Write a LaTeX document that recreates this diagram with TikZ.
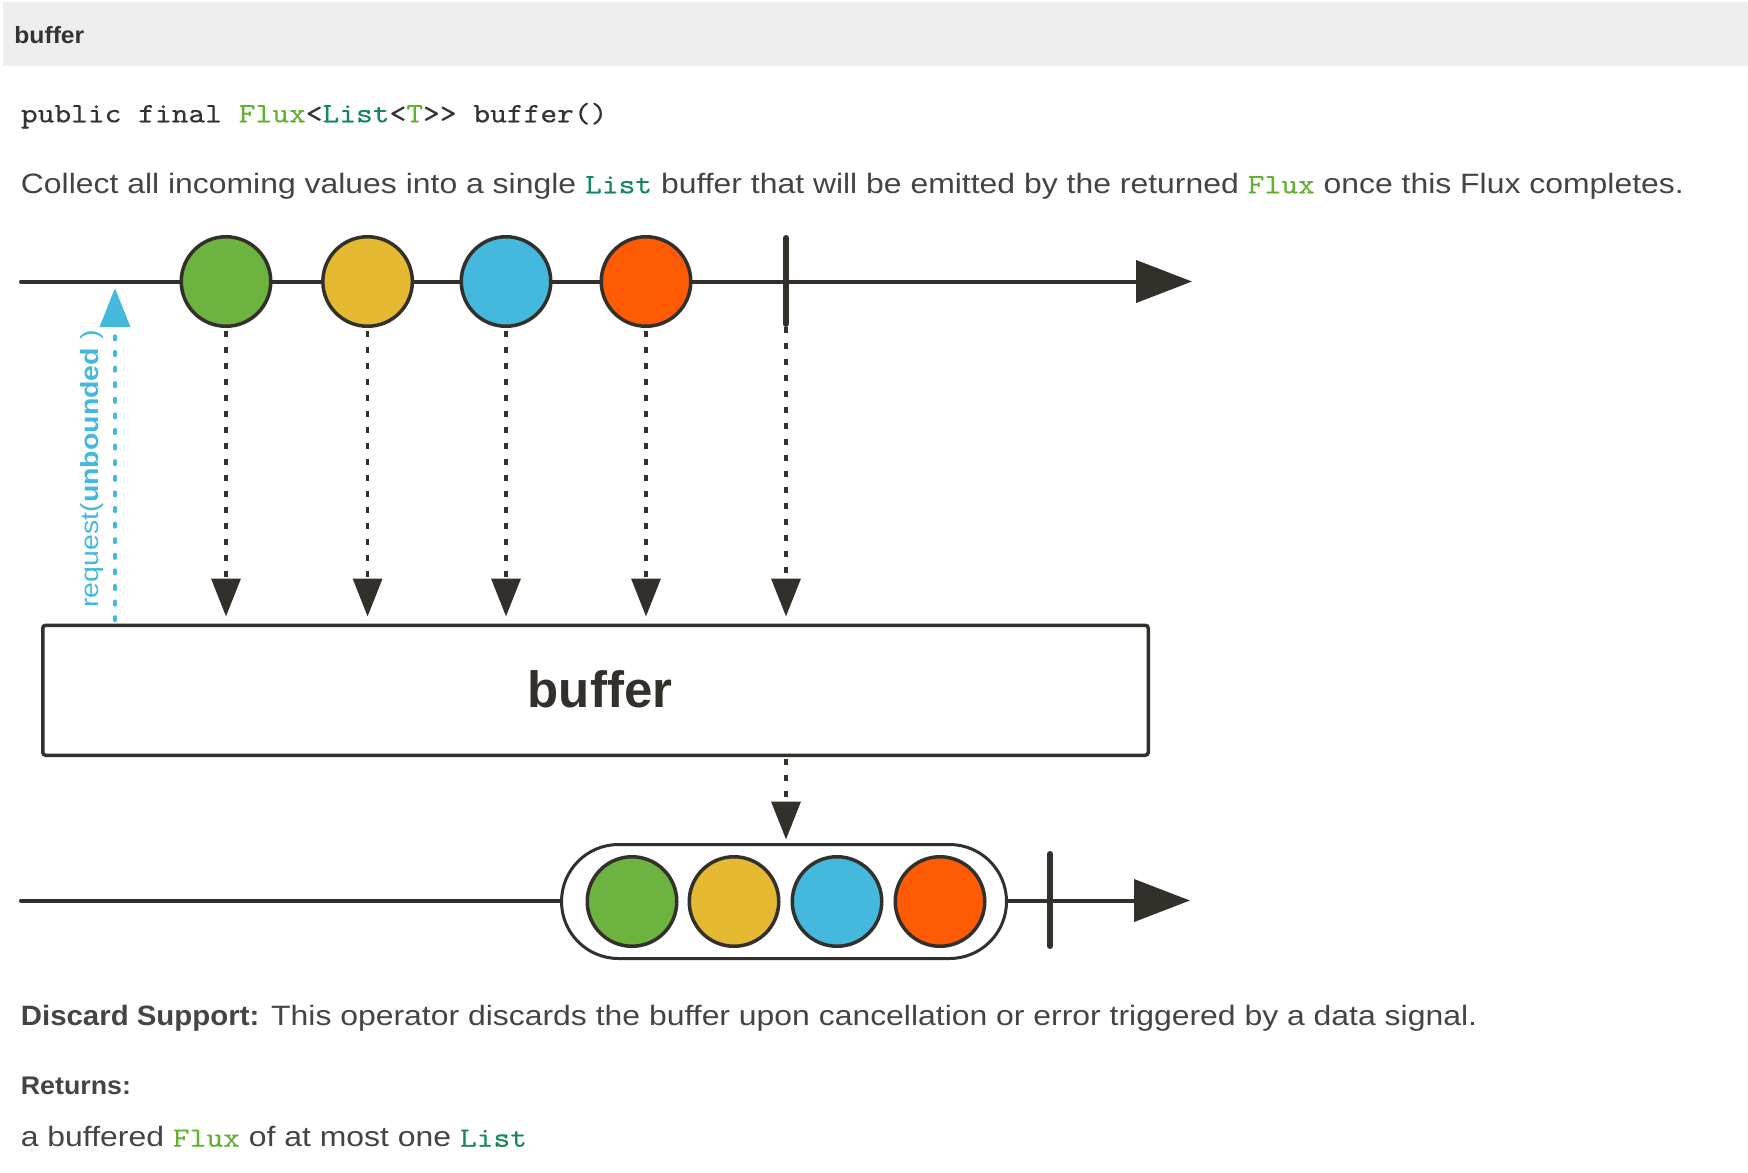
\documentclass[tikz,border=0pt]{standalone}
\usepackage{fontspec}
\setmainfont{Liberation Sans}[FakeStretch=1.14]
\newfontfamily\boldfont{Liberation Sans}[FakeStretch=1.05]
\newfontfamily\plainfont{Liberation Sans}
\newfontfamily\codefont{lmmono10-regular.otf}[FakeStretch=1.14, FakeBold=0.4]
\usetikzlibrary{arrows.meta}
\definecolor{ink}{HTML}{33302C}
\definecolor{txt}{HTML}{444444}
\definecolor{codetxt}{HTML}{333333}
\definecolor{lgreen}{HTML}{62B133}
\definecolor{listgreen}{HTML}{15875A}
\definecolor{cgreen}{HTML}{6DB33F}
\definecolor{cyellow}{HTML}{E5B931}
\definecolor{cblue}{HTML}{44B8DD}
\definecolor{corange}{HTML}{FF5B05}
\definecolor{reqblue}{HTML}{45B8DE}
\definecolor{band}{HTML}{EEEEEE}
\begin{document}
\begin{tikzpicture}[x=0.5pt,y=-0.5pt,
  timeline/.style={draw=ink, line width=2pt, line cap=round, -{Triangle[length=28pt,width=21pt]}},
  marble/.style={circle, draw=ink, line width=1.75pt, minimum size=44.75pt, inner sep=0pt},
  endbar/.style={draw=ink, line width=3pt, line cap=round},
  dotarrow/.style={draw=ink, line width=1.75pt, dash pattern=on 3.2pt off 4.8pt, -{Triangle[length=19pt,width=14.5pt]}},
  reqarrow/.style={draw=reqblue, line width=1.75pt, line cap=round, dash pattern=on 1.8pt off 6pt, -{Triangle[length=19.5pt,width=15pt]}},
  textline/.style={anchor=base west, inner sep=0pt, text=txt, font=\fontsize{14}{16}\selectfont},
]
\useasboundingbox (0,0) rectangle (1748,1172);
% header band
\fill[band] (3,2) rectangle (1748,66);
\node[anchor=base west, inner sep=0pt, text=codetxt, font=\boldfont\bfseries\fontsize{11.75}{14}\selectfont] (title) at (14,43.3) {buffer};
% signature
\node[anchor=base west, inner sep=0pt, text=codetxt, font=\codefont\fontsize{14}{16}\selectfont] (sig) at (20.5,122.3)
  {public final \textcolor{lgreen}{Flux}<\textcolor{listgreen}{List}<\textcolor{lgreen}{T}>> buffer()};
% description
\node[textline] (desc) at (20.5,193.3)
  {Collect all incoming values into a single {\codefont\textcolor{listgreen}{List}} buffer that will be emitted by the returned {\codefont\textcolor{lgreen}{Flux}} once this Flux completes.};

% top timeline
\coordinate (tl0) at (21,281.5);
\coordinate (tl1) at (1192,281.5);
\draw[timeline] (tl0) -- (tl1);
\node[marble, fill=cgreen] (g1) at (226,281.5) {};
\node[marble, fill=cyellow] (y1) at (367.6,281.5) {};
\node[marble, fill=cblue] (b1) at (506,281.5) {};
\node[marble, fill=corange] (o1) at (646,281.5) {};
\coordinate (bartop) at (786,238);
\coordinate (barbot) at (786,324);
\draw[endbar] (bartop) -- (barbot);

% operator box
\node[draw=ink, fill=white, line width=1.75pt, rounded corners=1.5pt, minimum width=552.75pt, minimum height=65pt, inner sep=0pt] (box) at (595.5,690.25) {};
\node[text=ink, inner sep=0pt, font=\plainfont\bfseries\fontsize{25.5}{30}\selectfont] (boxlabel) at (600,689.5) {buffer};

% dotted arrows into the box
\foreach \m in {g1,y1,b1,o1}
  \draw[dotarrow, shorten <=1.5pt, shorten >=3.5pt] (\m.south) -- (\m.south |- box.north);
\draw[dotarrow, shorten <=1.5pt, shorten >=3.5pt] (barbot) -- (barbot |- box.north);

% request arrow and label
\coordinate (reqtip) at (115,288);
\draw[reqarrow, shorten <=1.5pt] (reqtip |- box.north) -- (reqtip);
\node[rotate=90, inner sep=0pt, text=reqblue, font=\fontsize{12.5}{14}\selectfont] (reqlabel) at (92.5,469) {request(\textbf{unbounded} )};

% bottom timeline
\coordinate (bl0) at (21,900.5);
\coordinate (bl1) at (1190,900.5);
\draw[timeline] (bl0) -- (bl1);
\node[draw=ink, fill=white, line width=1.5pt, rounded corners=28.5pt, minimum width=222.5pt, minimum height=57pt, inner sep=0pt] (cap) at (784,901.5) {};
\node[marble, fill=cgreen] (g2) at (632,901.5) {};
\node[marble, fill=cyellow] (y2) at (734,901.5) {};
\node[marble, fill=cblue] (b2) at (837,901.5) {};
\node[marble, fill=corange] (o2) at (940,901.5) {};
\coordinate (endtop) at (1050,854);
\coordinate (endbot) at (1050,946);
\draw[endbar] (endtop) -- (endbot);
\draw[dotarrow, shorten <=1pt, shorten >=1.75pt] (box.south -| barbot) -- (cap.north -| barbot);

% footer text
\node[textline] (discard) at (20.5,1025.7)
  {{\boldfont\bfseries Discard Support:} This operator discards the buffer upon cancellation or error triggered by a data signal.};
\node[textline, font=\boldfont\bfseries\fontsize{12.75}{15}\selectfont] (ret) at (20.5,1094.3) {Returns:};
\node[textline] (retdesc) at (20.5,1146.7)
  {a buffered {\codefont\textcolor{lgreen}{Flux}} of at most one {\codefont\textcolor{listgreen}{List}}};
\end{tikzpicture}
\end{document}
